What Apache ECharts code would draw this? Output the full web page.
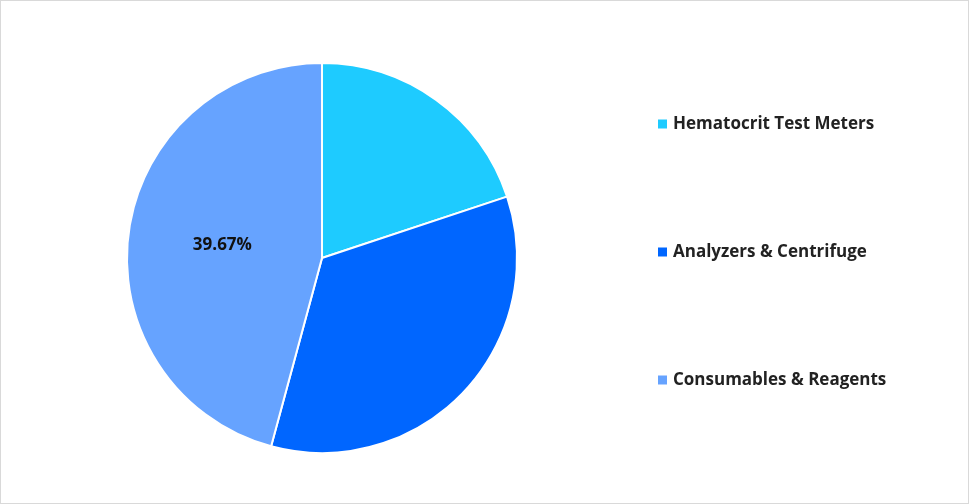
<!DOCTYPE html>
<html><head><meta charset="utf-8">
<script src="https://cdn.jsdelivr.net/npm/echarts@6/dist/echarts.min.js"></script>
<style>html,body{margin:0;padding:0;background:#fff}#c{width:967px;height:502px;border:1px solid #d9d9d9}</style>
</head><body><div id="c"></div>
<script>
const categories = ["Hematocrit Test Meters", "Analyzers & Centrifuge", "Consumables & Reagents"];
const values = [19.9, 34.3, 45.8];
const labels = ["", "", "39.67%"];
const colors = ["#1ECBFF", "#0066FF", "#66A3FF"];
const chart = echarts.init(document.getElementById('c'));
chart.setOption({
  animation: false,
  legend: {
    orient: 'vertical', left: 650, top: 'middle', itemGap: 111,
    itemWidth: 11, itemHeight: 11, icon: 'rect',
    textStyle: {fontFamily: 'Open Sans', fontWeight: 'bold', fontSize: 17, color: '#222'},
    data: categories
  },
  series: [{
    type: 'pie', center: [321, 257], radius: 195, startAngle: 90, clockwise: true,
    itemStyle: {borderColor: '#fff', borderWidth: 2},
    label: {show: true, position: 'inside', fontFamily: 'Open Sans', fontWeight: 'bold', fontSize: 17, color: '#111',
      formatter: p => labels[p.dataIndex]},
    labelLine: {show: false},
    data: categories.map((n, i) => ({name: n, value: values[i], itemStyle: {color: colors[i]}}))
  }]
});
</script></body></html>
